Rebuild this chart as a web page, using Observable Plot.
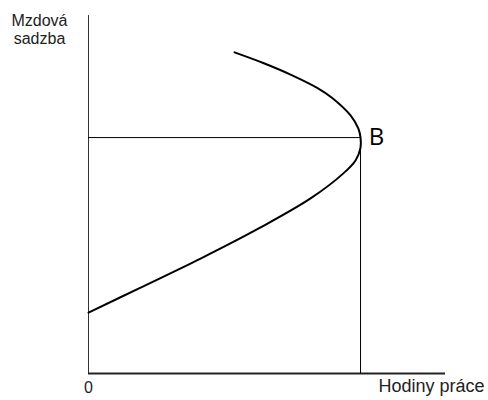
<!DOCTYPE html>
<html>
<head>
<meta charset="utf-8">
<script src="https://cdn.jsdelivr.net/npm/d3@7"></script>
<script src="https://cdn.jsdelivr.net/npm/@observablehq/plot@0.6"></script>
<style>
  html, body { margin: 0; padding: 0; background: #fff; }
  #chart svg { display: block; }
</style>
</head>
<body>
<div id="chart"></div>
<script>
// Backward-bending labour supply curve (hours vs. wage)
const hours = [0, 14.6, 31.4, 48.2, 62.2, 71.4, 74.8, 76.2, 76.2, 75.6, 73.4, 68.1, 64.4, 56.6, 49.3, 40.9];
const wage  = [17.0, 24.0, 32.1, 40.8, 48.9, 55.9, 59.5, 63.1, 65.9, 68.4, 72.1, 77.1, 79.6, 83.5, 86.6, 89.7];
const pointB = {hours: 76.2, wage: 65.9, label: "B"};
const yLabel = "Mzdová\nsadzba";
const xLabel = "Hodiny práce";
const originLabel = "0";

const curve = hours.map((h, i) => ({hours: h, wage: wage[i]}));

const chart = Plot.plot({
  width: 488,
  height: 400,
  marginLeft: 88,
  marginRight: 43,
  marginTop: 15,
  marginBottom: 27,
  x: {domain: [0, 100], axis: null},
  y: {domain: [0, 100], axis: null},
  style: {fontFamily: "Liberation Sans, Arial, sans-serif", background: "#fff", overflow: "visible"},
  marks: [
    // axes
    Plot.ruleX([0], {y1: 0, y2: 100, stroke: "#333", strokeWidth: 1}),
    Plot.ruleY([0], {x1: 0, x2: 100, stroke: "#222", strokeWidth: 2}),
    // guide lines to point B
    Plot.ruleY([pointB], {y: "wage", x1: 0, x2: "hours", stroke: "#000", strokeWidth: 1}),
    Plot.ruleX([pointB], {x: "hours", y1: 0, y2: "wage", stroke: "#000", strokeWidth: 1}),
    // supply curve
    Plot.line(curve, {x: "hours", y: "wage", curve: "catmull-rom", stroke: "#000", strokeWidth: 2}),
    // labels
    Plot.text([pointB], {x: "hours", y: "wage", text: "label", dx: 16, dy: 0, textAnchor: "middle",
      fontSize: 24, fontFamily: "Open Sans, sans-serif", fill: "#000"}),
    Plot.text([originLabel], {x: 0, y: 0, text: d => d, dy: 14, textAnchor: "middle", fontSize: 16, fill: "#222"}),
    Plot.text([xLabel], {frameAnchor: "bottom-right", text: d => d, dx: 39, dy: 18, textAnchor: "end", fontSize: 18, fill: "#222"}),
    Plot.text([yLabel], {frameAnchor: "top-left", text: d => d, dx: -49, dy: -2.4, textAnchor: "middle",
      lineAnchor: "top", lineHeight: 1.125, fontSize: 16, fill: "#222"})
  ]
});
document.getElementById("chart").appendChild(chart);
</script>
</body>
</html>
